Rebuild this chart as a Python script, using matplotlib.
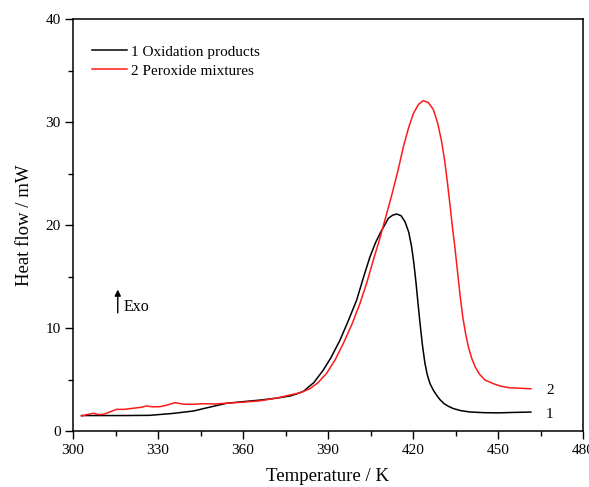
import matplotlib
matplotlib.use("Agg")
import matplotlib.pyplot as plt
from matplotlib.ticker import MultipleLocator

# Curve 1: Oxidation products
t1 = [303, 310, 318, 327, 335, 342.5, 348, 354.2, 360, 366, 372, 376.6, 379,
      381.3, 385, 388.3, 391, 394.2, 397, 400.1, 402.5, 404.8, 406.8, 408.4,
      410, 411.3, 412.8, 414.2, 415.8, 417.2, 418.5, 419.5, 420.3, 421.1,
      421.8, 422.5, 423.3, 424.2, 425, 426, 427.2, 428.4, 429.5, 431,
      432.5, 434.2, 437, 440, 445, 450, 455, 461.6]
y1 = [1.5, 1.5, 1.5, 1.52, 1.7, 1.94, 2.3, 2.69, 2.85, 3.0, 3.2, 3.4, 3.6,
      3.85, 4.7, 5.9, 7.1, 8.8, 10.6, 12.7, 14.9, 16.9, 18.3, 19.2,
      20.0, 20.65, 20.95, 21.07, 20.9, 20.3, 19.3, 17.9, 16.3, 14.3,
      12.3, 10.4, 8.4, 6.6, 5.5, 4.6, 3.95, 3.45, 3.05, 2.65,
      2.4, 2.18, 1.97, 1.85, 1.78, 1.76, 1.8, 1.84]

# Curve 2: Peroxide mixtures
t2 = [303, 305, 307.2, 309, 310.7, 313, 315.4, 318, 321, 324, 326, 328,
      330.6, 333, 336, 339, 342.5, 346, 350, 354.2, 360, 366, 372, 376.6,
      380, 383.6, 386.5, 389.5, 392.5, 395.4, 398.5, 401.3, 403.7, 406,
      408.2, 410.1, 412.5, 414.8, 416.6, 418.4, 420.1, 421.9, 423.6, 425.4,
      427.2, 428.7, 430.1, 431.2, 432.2, 433.2, 434.0, 434.8, 435.7, 436.6,
      437.6, 438.6, 439.6, 440.8, 442.0, 443.5, 445.4, 448.3, 451, 454,
      457.8, 461.6]
y2 = [1.45, 1.6, 1.72, 1.6, 1.62, 1.85, 2.1, 2.1, 2.2, 2.3, 2.43, 2.35,
      2.36, 2.5, 2.75, 2.6, 2.6, 2.65, 2.62, 2.7, 2.8, 2.93, 3.2, 3.5,
      3.7, 4.1, 4.7, 5.6, 6.9, 8.5, 10.4, 12.4, 14.4, 16.6,
      18.6, 20.5, 22.9, 25.4, 27.6, 29.4, 30.8, 31.7, 32.07, 31.9,
      31.2, 29.9, 28.1, 26.2, 24.0, 21.6, 19.6, 17.8, 15.5, 13.2,
      11.0, 9.4, 8.1, 7.0, 6.2, 5.5, 4.95, 4.6, 4.35, 4.2,
      4.15, 4.1]

labels = ["1 Oxidation products", "2 Peroxide mixtures"]
end_labels = ["1", "2"]

plt.rcParams['font.family'] = ['Liberation Serif', 'DejaVu Serif']

fig = plt.figure(figsize=(5.89, 4.87), dpi=100)
ax = fig.add_axes([73/589, 1 - 431/487, (583 - 73)/589, (431 - 19)/487])

ax.plot(t1, y1, color='black', lw=1.1, label=labels[0])
ax.plot(t2, y2, color='#ff1a1a', lw=1.1, label=labels[1])

ax.set_xlim(300, 480)
ax.set_ylim(0, 40)
ax.xaxis.set_major_locator(MultipleLocator(30))
ax.xaxis.set_minor_locator(MultipleLocator(15))
ax.yaxis.set_major_locator(MultipleLocator(10))
ax.yaxis.set_minor_locator(MultipleLocator(5))
ax.tick_params(which='both', direction='out', top=False, right=False,
               labelsize=11)
ax.tick_params(which='major', length=5.5, width=1)
ax.tick_params(which='minor', length=3.5, width=1)
for s in ax.spines.values():
    s.set_linewidth(1.1)

ax.set_xlabel("Temperature / K", fontsize=13.5, labelpad=8)
ax.set_ylabel("Heat flow / mW", fontsize=13.5, labelpad=9)

ax.legend(loc='upper left', bbox_to_anchor=(0.01, 0.97), frameon=False,
          fontsize=11, handlelength=2.3, handletextpad=0.25, labelspacing=0.35)

ax.text(t1[-1] + 5.3, y1[-1] - 0.2, end_labels[0], fontsize=11, va='center', ha='left')
ax.text(t2[-1] + 5.3, y2[-1] - 0.15, end_labels[1], fontsize=11, va='center', ha='left')

ax.annotate("", xy=(315.8, 14.0), xytext=(315.8, 11.2),
            arrowprops=dict(arrowstyle='-|>', color='black', lw=1,
                            mutation_scale=9))
ax.text(317.8, 12.0, "Exo", fontsize=11.5, va='center', ha='left')

fig.savefig("out.png", dpi=100)
